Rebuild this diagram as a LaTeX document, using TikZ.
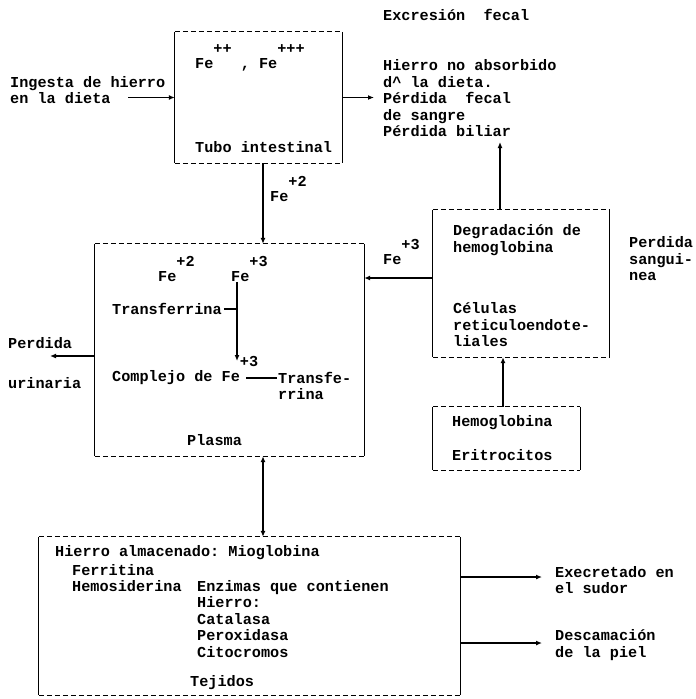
\documentclass[tikz,border=0pt]{standalone}
\usepackage{fontspec}
\setmonofont{Liberation Mono}
\usetikzlibrary{arrows.meta,positioning}

\newcommand{\sups}[1]{\smash{\raisebox{15pt}{#1}}}

\begin{document}
\begin{tikzpicture}[
  x=1pt, y=-1pt,
  font=\ttfamily\bfseries\fontsize{15.2}{16.5}\selectfont,
  dbox/.style={inner sep=0pt},
  hdash/.style={line width=1.2pt, dash pattern=on 5.5pt off 2.5pt},
  vside/.style={line width=1.2pt},
  txt/.style={anchor=west, align=left, inner sep=0pt},
  arrow/.style={-{Latex[length=6pt,width=5pt]}, line width=1.3pt},
  both/.style={{Latex[length=6pt,width=5pt]}-{Latex[length=6pt,width=5pt]}, line width=1.3pt},
  link/.style={line width=1.3pt}
]
\useasboundingbox (0,0) rectangle (696,699);

% boxes
\node[dbox, minimum width=167pt, minimum height=131pt] (tubo) at (258.5,97.5) {};
\node[dbox, minimum width=269pt, minimum height=212pt] (plasma) at (229.5,350) {};
\node[dbox, minimum width=176pt, minimum height=147pt] (degr) at (521,283.5) {};
\node[dbox, minimum width=147pt, minimum height=63pt] (hemo) at (506.5,438.5) {};
\node[dbox, minimum width=421pt, minimum height=158pt] (tej) at (249.5,616) {};

\foreach \b in {tubo,plasma,degr,hemo,tej} {
  \draw[hdash] (\b.north west) -- (\b.north east) (\b.south west) -- (\b.south east);
  \draw[vside] (\b.north west) -- (\b.south west) (\b.north east) -- (\b.south east);
}

% intestine
\node[txt] (ingesta) at (10,90) {Ingesta de hierro\\en la dieta};
\node[txt] (fetubo) at (195,65) {Fe\sups{++} , Fe\sups{+++}};
\node[txt] (tubolbl) at (195,147) {Tubo intestinal};
\node[txt] (excr) at (383,15) {Excresión~ fecal};
\node[txt] (fecal) at (383,98.5) {Hierro no absorbido\\d\symbol{94} la dieta.\\Pérdida~ fecal\\de sangre\\Pérdida biliar};
\node[txt] (fe2) at (270,197) {Fe\sups{+2}};

\coordinate (inicio) at (128,97.5);
\coordinate (salida) at (374,97.5);
\coordinate (absx) at (263,0);
\draw[arrow] (inicio) -- (tubo.west);
\draw[arrow] (tubo.east) -- (salida);
\draw[arrow] (tubo.south -| absx) -- (plasma.north -| absx);

% plasma
\node[txt] (fe2p) at (158,277) {Fe\sups{+2}};
\node[txt] (fe3p) at (231,277) {Fe\sups{+3}};
\node[txt] (transf) at (112,309) {Transferrina};
\node[txt] (compl) at (112,378) {Complejo de Fe\rlap{\sups{+3}}};
\node[txt] (transf2) at (278,386) {Transfe-\\rrina};
\node[txt] (plasmalbl) at (187,440) {Plasma};
\coordinate (baja) at (237,361);
\draw[arrow] (fe3p.south west -| baja) -- (baja);
\draw[link] ([xshift=2pt]transf.east) -- (transf.east -| baja);
\draw[link] ([xshift=6pt]compl.east) -- ([xshift=-1pt]compl.east -| transf2.west);

\node[txt] (perd) at (8,343) {Perdida};
\node[txt] (urin) at (8,383) {urinaria};
\coordinate (orina) at (50,356);
\draw[arrow] (plasma.west |- orina) -- (orina);

% reticuloendothelial cells
\node[txt] (degrlbl) at (453,240) {Degradación de\\hemoglobina};
\node[txt] (celulas) at (453,325) {Células\\reticuloendote-\\liales};
\node[txt] (sangre) at (629,259) {Perdida\\sangui-\\nea};
\node[txt] (fe3) at (383,260) {Fe\sups{+3}};
\coordinate (biliar) at (500,142);
\coordinate (fe3y) at (0,278);
\draw[arrow] (degr.north -| biliar) -- (biliar);
\draw[arrow] (degr.west |- fe3y) -- (plasma.east |- fe3y);

\node[txt] (hemolbl) at (452,423) {Hemoglobina};
\node[txt] (eritro) at (452,455) {Eritrocitos};
\coordinate (hx) at (503,0);
\draw[arrow] (hemo.north -| hx) -- (degr.south -| hx);

% tissues
\draw[both] (plasma.south -| absx) -- (tej.north -| absx);
\node[txt] (almac) at (55,553) {Hierro almacenado: Mioglobina};
\node[txt] (ferr) at (72,578) {Ferritina\\Hemosiderina};
\node[txt] (enzimas) at (197,619) {Enzimas que contienen\\Hierro:\\Catalasa\\Peroxidasa\\Citocromos};
\node[txt] (tejlbl) at (190,683) {Tejidos};

\coordinate (sudor) at (542,577);
\coordinate (piel) at (542,643);
\draw[arrow] (tej.east |- sudor) -- (sudor);
\draw[arrow] (tej.east |- piel) -- (piel);
\node[txt] (sudorlbl) at (555,580) {Execretado en\\el sudor};
\node[txt] (piellbl) at (555,645) {Descamación\\de la piel};

\end{tikzpicture}
\end{document}
